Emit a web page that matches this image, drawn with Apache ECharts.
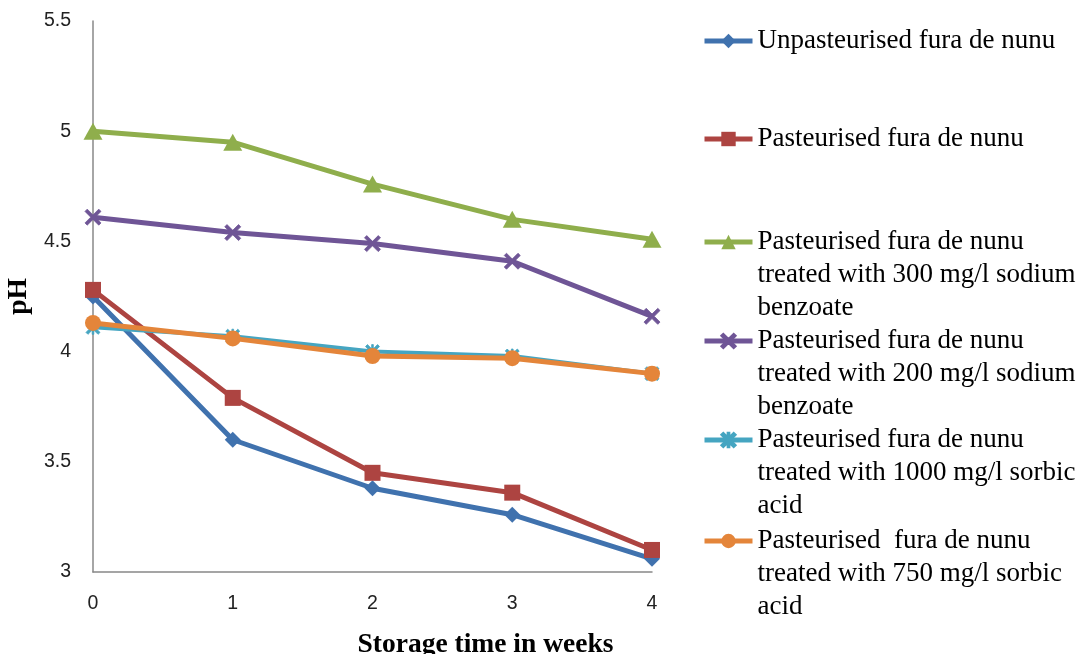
<!DOCTYPE html>
<html>
<head>
<meta charset="utf-8">
<script src="https://cdn.jsdelivr.net/npm/echarts@6/dist/echarts.min.js"></script>
<style>html,body{margin:0;padding:0;background:#fff;}#c{width:1086px;height:654px;}</style>
</head>
<body>
<div id="c"></div>
<script>
const weeks = ['0', '1', '2', '3', '4'];
const seriesNames = [
  'Unpasteurised fura de nunu',
  'Pasteurised fura de nunu',
  'Pasteurised fura de nunu treated with 300 mg/l sodium benzoate',
  'Pasteurised fura de nunu treated with 200 mg/l sodium benzoate',
  'Pasteurised fura de nunu treated with 1000 mg/l sorbic acid',
  'Pasteurised  fura de nunu treated with 750 mg/l sorbic acid'
];
const legendLines = [
  ['Unpasteurised fura de nunu'],
  ['Pasteurised fura de nunu'],
  ['Pasteurised fura de nunu', 'treated with 300 mg/l sodium', 'benzoate'],
  ['Pasteurised fura de nunu', 'treated with 200 mg/l sodium', 'benzoate'],
  ['Pasteurised fura de nunu', 'treated with 1000 mg/l sorbic', 'acid'],
  ['Pasteurised  fura de nunu', 'treated with 750 mg/l sorbic', 'acid']
];
const unpasteurised = [4.25, 3.60, 3.38, 3.26, 3.06];
const pasteurised = [4.28, 3.79, 3.45, 3.36, 3.10];
const benzoate300 = [5.00, 4.95, 4.76, 4.60, 4.51];
const benzoate200 = [4.61, 4.54, 4.49, 4.41, 4.16];
const sorbic1000 = [4.11, 4.07, 4.00, 3.98, 3.90];
const sorbic750 = [4.13, 4.06, 3.98, 3.97, 3.90];
const yTicks = { min: 3, max: 5.5, interval: 0.5 };

const values = [unpasteurised, pasteurised, benzoate300, benzoate200, sorbic1000, sorbic750];
const colors = ['#4072ae', '#ad4441', '#8fae4c', '#6f5596', '#45a5c1', '#e4853a'];
const xPath = 'path://M0,1.4L1.4,0L5,3.6L8.6,0L10,1.4L6.4,5L10,8.6L8.6,10L5,6.4L1.4,10L0,8.6L3.6,5Z';
const starPath = 'path://M0,1.4L1.4,0L5,3.6L8.6,0L10,1.4L6.4,5L10,8.6L8.6,10L5,6.4L1.4,10L0,8.6L3.6,5Z M4.4,0L5.6,0L5.6,10L4.4,10Z';
const symbols = ['diamond', 'rect', 'triangle', xPath, starPath, 'circle'];
const symbolSizes = [16, 16, [19, 17], 16, 14, 16];
const legendCenters = [41, 139, 242, 341, 440, 541];
const LH = 33;

const chart = echarts.init(document.getElementById('c'), null, { renderer: 'canvas' });

const legends = seriesNames.map((name, i) => {
  const n = legendLines[i].length;
  const half = (2 * n - 1) * LH / 2;
  return {
    data: [name],
    left: 702,
    top: legendCenters[i] - half,
    padding: 0,
    orient: 'vertical',
    itemWidth: 48,
    itemHeight: 18,
    selectedMode: false,
    lineStyle: { width: 5 },
    formatter: () => {
      const pre = new Array(n - 1).fill('').join('\n');
      return (n > 1 ? pre + '\n' : '') + legendLines[i].join('\n');
    },
    textStyle: {
      fontFamily: 'Liberation Serif',
      fontSize: 27,
      lineHeight: LH,
      color: '#000'
    }
  };
});

const series = seriesNames.map((name, i) => ({
  name: name,
  type: 'line',
  data: values[i],
  symbol: symbols[i],
  symbolSize: symbolSizes[i],
  showAllSymbol: true,
  lineStyle: { color: colors[i], width: i === 4 ? 4 : 5 },
  itemStyle: { color: colors[i], borderColor: colors[i], borderWidth: (i === 3 || i === 4) ? 0.8 : 0 },
  emphasis: { disabled: true },
  animation: false
}));

chart.setOption({
  backgroundColor: '#fff',
  animation: false,
  grid: { left: 93, right: 434, top: 21, bottom: 82, outerBoundsMode: 'none', containLabel: false },
  legend: legends,
  xAxis: {
    type: 'category',
    data: weeks,
    boundaryGap: false,
    name: 'Storage time in weeks',
    nameLocation: 'middle',
    nameGap: 59,
    nameTextStyle: {
      fontFamily: 'Liberation Serif', fontWeight: 'bold', fontSize: 27.5, color: '#000',
      padding: [0, 0, 0, 226]
    },
    axisLine: { lineStyle: { color: '#888', width: 1.5 } },
    axisTick: { show: false },
    axisLabel: { margin: 22, fontFamily: 'Liberation Sans', fontSize: 19.5, color: '#222' },
    splitLine: { show: false }
  },
  yAxis: {
    type: 'value',
    min: yTicks.min,
    max: yTicks.max,
    interval: yTicks.interval,
    name: 'pH',
    nameLocation: 'middle',
    nameGap: 44,
    nameTextStyle: { fontFamily: 'Liberation Serif', fontWeight: 'bold', fontSize: 27.5, color: '#000' },
    axisLine: { show: true, lineStyle: { color: '#888', width: 1.5 } },
    axisTick: { show: false },
    axisLabel: { margin: 22, fontFamily: 'Liberation Sans', fontSize: 19.5, color: '#222' },
    splitLine: { show: false }
  },
  series: series
});
</script>
</body>
</html>
